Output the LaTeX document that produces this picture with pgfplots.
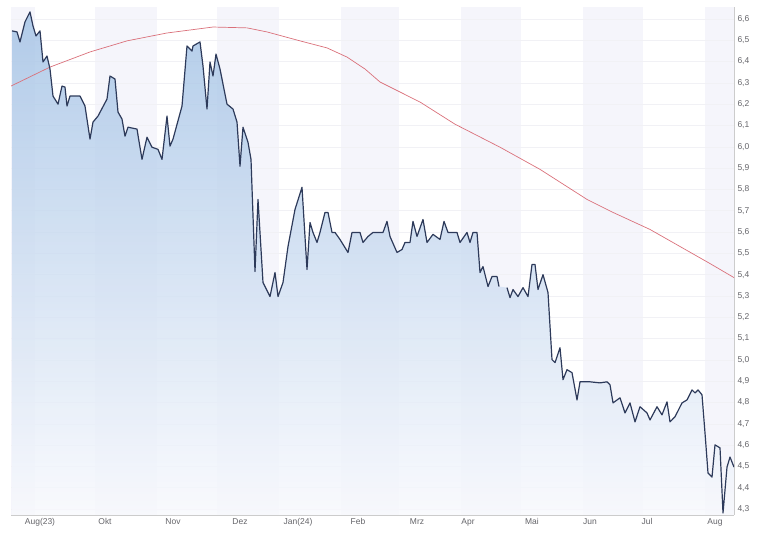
\documentclass[border=0pt]{standalone}
\usepackage{fontspec}
\setmainfont{Liberation Sans}
\usepackage{pgfplots}
\usepackage{pgfplotstable}
\pgfplotsset{compat=1.18}

\definecolor{band}{RGB}{245,245,251}
\definecolor{pline}{RGB}{45,58,90}
\definecolor{maline}{RGB}{218,112,122}
\definecolor{gridc}{RGB}{241,241,245}
\definecolor{lab}{RGB}{100,100,105}
\definecolor{ftop}{RGB}{166,196,230}
\definecolor{fmid}{RGB}{226,234,245}
\definecolor{fbot}{RGB}{248,249,253}

% day = days since 1 Aug 2023
\pgfplotstableread{
d v
19.5 6.544
22 6.539
23.5 6.492
26 6.586
28.5 6.633
30 6.567
31.5 6.520
33.5 6.544
35 6.398
37 6.426
38.5 6.365
40 6.238
42.5 6.200
44.5 6.285
46 6.280
47 6.191
48.5 6.238
53.5 6.238
56 6.191
58.5 6.036
60 6.116
62.5 6.144
67 6.224
68.5 6.332
71 6.318
72.5 6.163
74.5 6.130
76 6.050
77.5 6.092
82 6.083
84.5 5.941
87 6.045
89.5 5.998
92.5 5.988
94.5 5.941
97 6.144
98.5 6.003
100 6.036
104.5 6.191
107 6.473
109.5 6.449
110 6.473
113.5 6.492
115 6.379
117 6.177
118.5 6.398
120 6.332
121.5 6.435
123.5 6.365
127 6.200
130 6.177
132 6.116
133.5 5.909
135 6.092
137.5 6.021
139 5.941
141 5.415
142.5 5.753
145 5.363
148.5 5.297
151 5.410
152.5 5.297
155 5.363
157.5 5.532
161 5.706
164.5 5.810
167 5.424
168.5 5.645
170 5.598
172 5.551
173.5 5.598
176 5.692
177.5 5.692
179.5 5.598
181 5.598
183.5 5.565
187.5 5.504
189.5 5.598
193.5 5.598
195 5.551
197.5 5.579
200 5.598
205 5.598
207 5.650
208.5 5.579
212 5.504
214.5 5.518
216 5.551
218.5 5.551
220 5.650
222 5.579
225 5.659
227 5.551
230 5.589
233.5 5.565
235.5 5.650
237.5 5.598
242 5.598
243.5 5.551
247 5.598
248.5 5.551
250 5.598
252 5.598
253.5 5.410
255 5.438
257.5 5.344
259.5 5.391
262 5.391
263 5.344
265 nan
267 5.339
268.5 5.292
270 5.330
272.5 5.297
275 5.339
277.5 5.297
279.5 5.448
281 5.448
282.5 5.330
285 5.400
287.5 5.316
289.5 5.001
291 4.987
293.5 5.057
295 4.907
297 4.954
299.5 4.940
302 4.812
303.5 4.897
308.5 4.897
313.5 4.892
317 4.897
318.5 4.883
320 4.798
323.5 4.822
326 4.751
328.5 4.798
331 4.709
333.5 4.780
337 4.751
338.5 4.718
342 4.780
344.5 4.742
347 4.803
348.5 4.709
351 4.733
354.5 4.798
357 4.812
359.5 4.859
361 4.845
362.5 4.859
364.5 4.836
366 4.657
367.5 4.469
369.5 4.450
371 4.601
373.5 4.587
375 4.281
377 4.497
378.5 4.544
380.5 4.497
}\price

\pgfplotstableread{
d v
19 6.285
38.5 6.374
58.5 6.445
77 6.497
97 6.534
120 6.562
137 6.558
147 6.539
163.5 6.497
177 6.464
187 6.421
196 6.365
203.5 6.304
223.5 6.210
241 6.106
263.5 5.998
283.5 5.894
307 5.753
320 5.692
338.5 5.612
353.5 5.532
368.5 5.452
380.5 5.386
}\avg

\begin{document}
\begin{tikzpicture}
\begin{axis}[
  set layers,
  scale only axis,
  width=723bp, height=508bp,
  at={(11bp,18bp)}, anchor=south west,
  xmin=19, xmax=380.5,
  ymin=4.272, ymax=6.656,
  axis y line*=right, axis x line*=bottom,
  axis line style={draw=black!20, line width=0.6pt},
  major tick length=0pt,
  ytick={4.3,4.4,4.5,4.6,4.7,4.8,4.9,5.0,5.1,5.2,5.3,5.4,5.5,5.6,5.7,5.8,5.9,6.0,6.1,6.2,6.3,6.4,6.5,6.6},
  yticklabel style={/pgf/number format/.cd, fixed, fixed zerofill, precision=1, use comma, assume math mode=true},
  xtick={33.5,66,100,133.5,162.5,192.5,222,247.5,279.5,308.5,337,371},
  xticklabels={Aug(23),Okt,Nov,Dez,Jan(24),Feb,Mrz,Apr,Mai,Jun,Jul,Aug},
  tick label style={font=\fontsize{8.5}{9}\selectfont, text=lab},
  ymajorgrids,
  grid style={draw=gridc, line width=0.5pt},
  clip=true,
]
\begin{pgfonlayer}{axis background}
  \fill[band] (axis cs:19,4.272) rectangle (axis cs:31,6.656);
  \fill[band] (axis cs:61,4.272) rectangle (axis cs:92,6.656);
  \fill[band] (axis cs:122,4.272) rectangle (axis cs:153,6.656);
  \fill[band] (axis cs:184,4.272) rectangle (axis cs:213,6.656);
  \fill[band] (axis cs:244,4.272) rectangle (axis cs:274,6.656);
  \fill[band] (axis cs:305,4.272) rectangle (axis cs:335,6.656);
  \fill[band] (axis cs:366,4.272) rectangle (axis cs:380.5,6.656);
\end{pgfonlayer}
\addplot[draw=none, top color=ftop, middle color=fmid, bottom color=fbot, fill opacity=0.85]
  table[x=d, y=v] {\price} \closedcycle;
\addplot[maline, line width=0.7pt] table[x=d, y=v] {\avg};
\addplot[pline, line width=1.2pt, line join=round, unbounded coords=jump] table[x=d, y=v] {\price};
\end{axis}
\pgfresetboundingbox
\path[use as bounding box] (0,0) rectangle (759bp,533bp);
\end{tikzpicture}
\end{document}
